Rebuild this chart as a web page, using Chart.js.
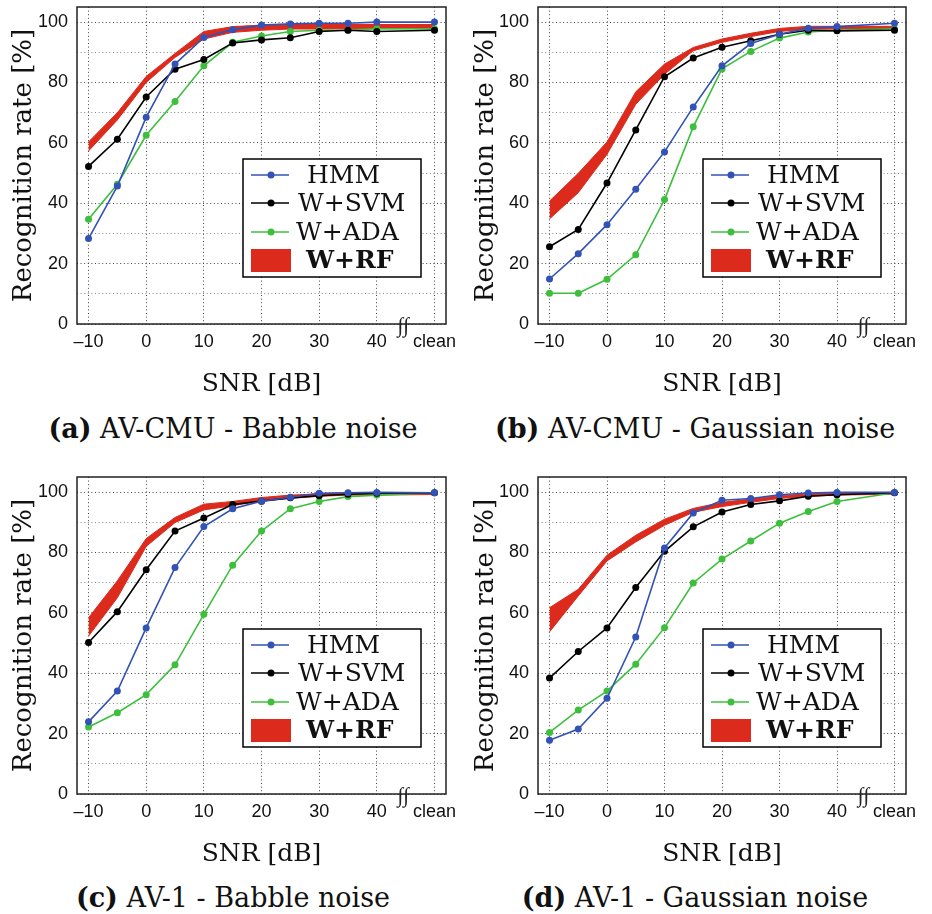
<!DOCTYPE html>
<html lang="en">
<head>
<meta charset="UTF-8">
<title>Recognition rate vs SNR</title>
<script src="https://cdn.jsdelivr.net/npm/chart.js@4.4.0/dist/chart.umd.min.js"></script>
<style>
  body { margin: 0; background: #fff; width: 932px; height: 914px; position: relative; overflow: hidden; }
  canvas { position: absolute; }
  .caption { position: absolute; width: 466px; text-align: center; font-family: "DejaVu Serif", serif; font-size: 27px; color: #111; white-space: nowrap; }
</style>
</head>
<body>
<canvas id="chartA" width="466" height="410" style="left:0;top:0"></canvas>
<canvas id="chartB" width="466" height="410" style="left:466px;top:0"></canvas>
<canvas id="chartC" width="466" height="410" style="left:0;top:470px"></canvas>
<canvas id="chartD" width="466" height="410" style="left:466px;top:470px"></canvas>

<div class="caption" style="left:0;top:413px"><b>(a)</b> AV-CMU - Babble noise</div>
<div class="caption" style="left:462px;top:413px"><b>(b)</b> AV-CMU - Gaussian noise</div>
<div class="caption" style="left:0;top:882px"><b>(c)</b> AV-1 - Babble noise</div>
<div class="caption" style="left:462px;top:882px"><b>(d)</b> AV-1 - Gaussian noise</div>

<script>
// SNR in dB; "clean" is drawn at 50, after the axis break
const snr = [-10, -5, 0, 5, 10, 15, 20, 25, 30, 35, 40, 50];
const xTicks = [-10, 0, 10, 20, 30, 40, 50];
const yTicks = [0, 10, 20, 30, 40, 50, 60, 70, 80, 90, 100];
const legendNames = ['HMM', 'W+SVM', 'W+ADA', 'W+RF'];

// (a) AV-CMU - Babble noise
const hmmA  = [28.3, 45.7, 68.5, 86.1, 94.9, 97.5, 99.0, 99.4, 99.6, 99.6, 100, 100];
const svmA  = [52.2, 61.2, 75.2, 84.4, 87.6, 93.1, 94.1, 94.8, 96.9, 97.3, 96.9, 97.3];
const adaA  = [34.7, 46.3, 62.5, 73.7, 85.5, 93.3, 95.4, 96.9, 97.3, 97.3, 97.8, 97.8];
const rfLoA = [57.3, 67.6, 80.0, 88.3, 94.4, 96.6, 97.3, 97.7, 97.7, 97.8, 97.8, 97.8];
const rfHiA = [60.3, 70.0, 82.0, 89.6, 96.9, 98.5, 99.0, 99.2, 99.2, 99.2, 99.2, 99.2];

// (b) AV-CMU - Gaussian noise
const hmmB  = [14.9, 23.3, 32.9, 44.6, 57.0, 71.9, 85.5, 92.9, 96.0, 98.0, 98.5, 99.6];
const svmB  = [25.6, 31.3, 46.7, 64.3, 81.9, 88.1, 91.7, 93.8, 96.0, 97.3, 97.1, 97.3];
const adaB  = [10.2, 10.2, 14.8, 22.9, 41.2, 65.3, 84.5, 90.3, 94.7, 96.7, 97.3, 97.8];
const rfLoB = [34.8, 43.5, 56.2, 72.8, 82.7, 90.5, 93.3, 95.2, 96.9, 97.7, 97.7, 97.9];
const rfHiB = [40.7, 49.9, 60.3, 76.9, 86.1, 91.6, 94.4, 96.3, 97.9, 98.6, 98.6, 98.6];

// (c) AV-1 - Babble noise
const hmmC  = [23.9, 34.1, 55.0, 75.0, 88.6, 94.5, 97.0, 98.3, 99.6, 99.8, 99.9, 99.8];
const svmC  = [50.2, 60.4, 74.3, 87.1, 91.4, 95.9, 97.0, 98.1, 98.8, 99.3, 99.6, 99.8];
const adaC  = [22.2, 26.9, 32.9, 42.8, 59.5, 75.8, 87.1, 94.5, 96.9, 98.5, 99.0, 99.8];
const rfLoC = [52.3, 65.0, 82.0, 89.9, 94.1, 95.5, 97.1, 97.9, 98.6, 99.0, 99.0, 99.2];
const rfHiC = [58.4, 70.6, 84.6, 91.6, 96.0, 96.9, 98.2, 99.0, 99.4, 99.8, 99.8, 99.8];

// (d) AV-1 - Gaussian noise
const hmmD  = [17.8, 21.5, 31.7, 52.0, 81.5, 93.1, 97.3, 97.9, 99.1, 99.7, 99.9, 99.9];
const svmD  = [38.4, 47.2, 55.0, 68.4, 80.4, 88.5, 93.4, 95.9, 97.1, 98.6, 99.1, 99.8];
const adaD  = [20.4, 27.8, 34.1, 43.0, 55.1, 69.9, 77.8, 83.8, 89.7, 93.6, 96.9, 99.8];
const rfLoD = [53.7, 65.6, 77.2, 83.5, 89.0, 93.3, 95.2, 96.6, 97.9, 98.6, 99.0, 99.3];
const rfHiD = [61.7, 67.8, 79.1, 85.7, 91.0, 94.6, 96.6, 97.7, 98.8, 99.4, 99.8, 99.9];

const BLUE = '#3352b5', BLACK = '#000000', GREEN = '#3dbf3d', RED = '#dc2a1d';
const serif = '"DejaVu Serif", serif';
const sans = '"Liberation Sans", Arial, sans-serif';

function pts(vals) {
  return vals.map((v, i) => ({x: snr[i], y: v}));
}

function lineSet(label, vals, color) {
  return {
    label: label, data: pts(vals),
    borderColor: color, backgroundColor: color,
    borderWidth: 1.6, pointRadius: 3.5, pointBorderWidth: 0,
    tension: 0, fill: false
  };
}

// no extra room for half tick labels: the plot box is fixed
function noEdgePadding(s) {
  s.paddingTop = 0; s.paddingBottom = 0;
  s.paddingLeft = 0; s.paddingRight = 0;
}

// frame around the plot, axis-break mark and the boxed legend
const decorations = {
  id: 'decorations',
  afterDraw(chart) {
    const ctx = chart.ctx, ca = chart.chartArea;
    ctx.save();
    ctx.strokeStyle = '#222';
    ctx.lineWidth = 1.5;
    ctx.strokeRect(ca.left, ca.top, ca.right - ca.left, ca.bottom - ca.top);

    // break between 40 and clean
    const bx = chart.scales.x.getPixelForValue(44.6);
    ctx.fillStyle = '#222';
    ctx.font = '21px "Liberation Serif", serif';
    ctx.textAlign = 'center';
    ctx.textBaseline = 'middle';
    ctx.fillText('\u222B\u222B', bx, ca.bottom + 2);

    // legend
    const w = 178, h = 118;
    const lx = ca.right - 25 - w, ly = ca.bottom - 47 - h;
    ctx.fillStyle = '#fff';
    ctx.fillRect(lx, ly, w, h);
    ctx.strokeStyle = '#000';
    ctx.lineWidth = 1.5;
    ctx.strokeRect(lx, ly, w, h);

    const rows = [16, 44, 73, 101];
    const textX = [64, 55, 53, 63];
    const colors = [BLUE, BLACK, GREEN, RED];
    ctx.textAlign = 'left';
    for (let i = 0; i < 4; i++) {
      const y = ly + rows[i];
      if (i < 3) {
        ctx.strokeStyle = colors[i];
        ctx.lineWidth = 1.6;
        ctx.beginPath();
        ctx.moveTo(lx + 8, y);
        ctx.lineTo(lx + 46, y);
        ctx.stroke();
        ctx.fillStyle = colors[i];
        ctx.beginPath();
        ctx.arc(lx + 28, y, 3.5, 0, Math.PI * 2);
        ctx.fill();
        ctx.font = '25px ' + serif;
      } else {
        ctx.fillStyle = RED;
        ctx.fillRect(lx + 8, y - 11, 40, 23);
        ctx.font = 'bold 25px ' + serif;
      }
      ctx.fillStyle = '#111';
      ctx.fillText(legendNames[i], lx + textX[i], y + 1);
    }
    ctx.restore();
  }
};

function makeChart(id, hmm, svm, ada, rfLo, rfHi, axisWidth, rightPad, titlePad) {
  const rfHigh = {
    label: 'W+RF', data: pts(rfHi),
    borderColor: RED, backgroundColor: RED, borderWidth: 1,
    pointRadius: 0, tension: 0, fill: '+1'
  };
  const rfLow = {
    label: 'W+RF low', data: pts(rfLo),
    borderColor: RED, backgroundColor: RED, borderWidth: 1,
    pointRadius: 0, tension: 0, fill: false
  };
  return new Chart(document.getElementById(id), {
    type: 'line',
    data: {
      datasets: [
        lineSet('HMM', hmm, BLUE),
        lineSet('W+SVM', svm, BLACK),
        lineSet('W+ADA', ada, GREEN),
        rfHigh, rfLow
      ]
    },
    options: {
      responsive: false,
      animation: false,
      layout: {padding: {top: 7, right: rightPad, bottom: 0, left: 0}},
      plugins: {legend: {display: false}, tooltip: {enabled: false}},
      scales: {
        x: {
          type: 'linear', min: -12, max: 52,
          afterBuildTicks: s => { s.ticks = xTicks.map(v => ({value: v})); },
          afterFit: s => { s.height = 86; noEdgePadding(s); },
          ticks: {
            padding: 7, color: '#111', font: {family: sans, size: 18},
            maxRotation: 0, autoSkip: false,
            callback: v => v === 50 ? 'clean' : (v < 0 ? '\u2013' + (-v) : String(v))
          },
          grid: {color: '#444', lineWidth: 1, drawTicks: false},
          border: {display: false, dash: [1, 2.6]},
          title: {display: true, text: 'SNR [dB]', color: '#111',
                  font: {family: serif, size: 25}, padding: {top: 0, bottom: 11}}
        },
        y: {
          min: 0, max: 105,
          afterBuildTicks: s => { s.ticks = yTicks.map(v => ({value: v})); },
          afterFit: s => { s.width = axisWidth; noEdgePadding(s); },
          ticks: {
            padding: 9, color: '#111', font: {family: sans, size: 18},
            callback: v => v % 20 === 0 ? String(v) : ''
          },
          grid: {color: ctx => ctx.tick && ctx.tick.value % 20 ? '#888' : '#444', lineWidth: 1, drawTicks: false},
          border: {display: false, dash: [1, 2.6]},
          title: {display: true, text: 'Recognition rate [%]', color: '#111',
                  font: {family: serif, size: 26}, padding: {top: titlePad, bottom: 0}}
        }
      }
    },
    plugins: [decorations]
  });
}

makeChart('chartA', hmmA, svmA, adaA, rfLoA, rfHiA, 77, 20, 9);
makeChart('chartB', hmmB, svmB, adaB, rfLoB, rfHiB, 72, 26, 5);
makeChart('chartC', hmmC, svmC, adaC, rfLoC, rfHiC, 77, 20, 9);
makeChart('chartD', hmmD, svmD, adaD, rfLoD, rfHiD, 72, 26, 5);
</script>
</body>
</html>
